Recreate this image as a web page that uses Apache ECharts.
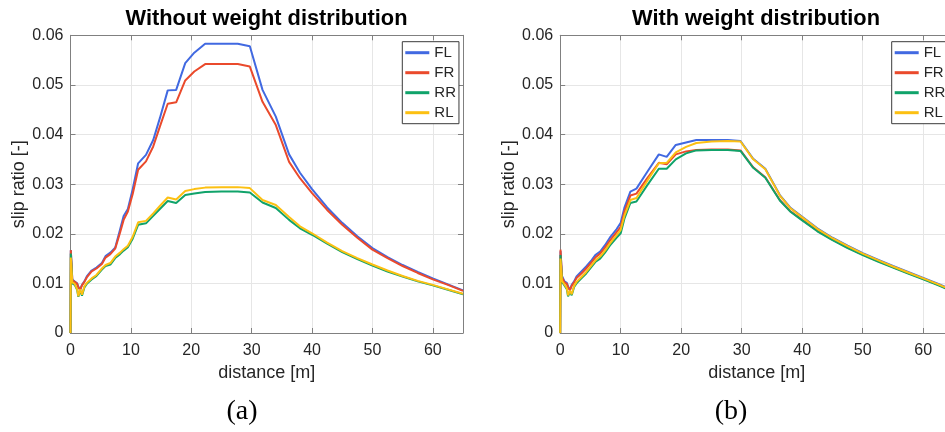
<!DOCTYPE html>
<html>
<head>
<meta charset="utf-8">
<script src="https://cdn.jsdelivr.net/npm/echarts@6/dist/echarts.min.js"></script>
<style>
html,body{margin:0;padding:0;background:#fff;overflow:hidden;width:945px;height:432px;}
#c{width:965px;height:432px;}
</style>
</head>
<body>
<div id="c"></div>
<script>
// ---------- data (a) Without weight distribution ----------
const distA = [0, 0.05, 0.3, 0.7, 1.1, 1.3, 1.6, 1.9, 2.3, 2.7, 3.5, 4.3, 5.2, 5.8, 6.6, 7.4, 8.2, 8.8, 9.5, 10.3, 11.2, 12.5, 13.7, 14.8, 16.1, 17.5, 19.0, 20.5, 22.3, 25, 27.7, 29.7, 31.8, 34.0, 36.2, 38, 40, 42.5, 45, 47.5, 50, 52.5, 55, 57.5, 60, 62.5, 65];
const flA = [0, 0.0167, 0.0108, 0.0104, 0.0100, 0.0093, 0.0088, 0.0097, 0.0104, 0.0114, 0.0126, 0.0132, 0.0141, 0.0155, 0.0162, 0.0172, 0.0208, 0.0236, 0.0250, 0.0290, 0.0342, 0.0359, 0.0389, 0.0433, 0.0489, 0.0490, 0.0544, 0.0565, 0.0583, 0.0583, 0.0583, 0.0578, 0.0490, 0.0436, 0.0360, 0.0323, 0.0290, 0.0253, 0.0222, 0.0195, 0.0171, 0.0153, 0.0137, 0.0123, 0.0110, 0.0098, 0.0086];
const frA = [0, 0.0167, 0.0106, 0.0103, 0.0099, 0.0092, 0.0087, 0.0096, 0.0103, 0.0112, 0.0124, 0.0130, 0.0139, 0.0152, 0.0159, 0.0170, 0.0202, 0.0228, 0.0245, 0.0280, 0.0329, 0.0346, 0.0376, 0.0416, 0.0462, 0.0465, 0.0509, 0.0527, 0.0542, 0.0542, 0.0542, 0.0537, 0.0466, 0.0419, 0.0345, 0.0312, 0.0282, 0.0248, 0.0218, 0.0192, 0.0168, 0.0151, 0.0135, 0.0121, 0.0108, 0.0097, 0.0085];
const rrA = [0, 0.0160, 0.0100, 0.0097, 0.0087, 0.0073, 0.0086, 0.0075, 0.0092, 0.0099, 0.0108, 0.0115, 0.0128, 0.0135, 0.0138, 0.0151, 0.0159, 0.0166, 0.0173, 0.0190, 0.0218, 0.0221, 0.0236, 0.0250, 0.0266, 0.0262, 0.0278, 0.0281, 0.0284, 0.0285, 0.0285, 0.0283, 0.0263, 0.0252, 0.0228, 0.0211, 0.0198, 0.0180, 0.0163, 0.0149, 0.0136, 0.0124, 0.0114, 0.0104, 0.0096, 0.0087, 0.0078];
const rlA = [0, 0.0152, 0.0102, 0.0099, 0.0088, 0.0074, 0.0088, 0.0077, 0.0094, 0.0101, 0.0110, 0.0117, 0.0130, 0.0137, 0.0141, 0.0154, 0.0162, 0.0169, 0.0176, 0.0194, 0.0223, 0.0226, 0.0241, 0.0256, 0.0273, 0.0269, 0.0286, 0.0290, 0.0293, 0.0294, 0.0294, 0.0292, 0.0268, 0.0258, 0.0234, 0.0215, 0.0201, 0.0182, 0.0165, 0.0151, 0.0138, 0.0126, 0.0115, 0.0105, 0.0097, 0.0088, 0.0079];

// ---------- data (b) With weight distribution ----------
const distB = [0, 0.05, 0.3, 0.7, 1.1, 1.3, 1.6, 1.9, 2.3, 2.7, 3.5, 4.3, 5.2, 5.8, 6.6, 7.4, 8.2, 9.3, 10.0, 10.6, 11.6, 12.6, 14.4, 16.3, 17.6, 19.1, 20.8, 22.5, 25, 27.7, 29.8, 31.9, 33.9, 36.3, 38, 40, 42.5, 45, 47.5, 50, 52.5, 55, 57.5, 60, 62.5, 65];
const flB = [0, 0.0165, 0.0115, 0.0104, 0.0101, 0.0094, 0.0087, 0.0097, 0.0104, 0.0114, 0.0124, 0.0134, 0.0147, 0.0157, 0.0164, 0.0177, 0.0192, 0.0209, 0.0222, 0.0252, 0.0285, 0.0291, 0.0325, 0.0360, 0.0355, 0.0379, 0.0384, 0.0389, 0.0389, 0.0389, 0.0387, 0.0351, 0.0331, 0.0278, 0.0253, 0.0234, 0.0211, 0.0192, 0.0176, 0.0161, 0.0148, 0.0135, 0.0123, 0.0111, 0.0099, 0.0086];
const frB = [0, 0.0168, 0.0112, 0.0102, 0.0099, 0.0092, 0.0086, 0.0095, 0.0102, 0.0111, 0.0120, 0.0130, 0.0143, 0.0152, 0.0160, 0.0172, 0.0186, 0.0203, 0.0214, 0.0244, 0.0277, 0.0281, 0.0312, 0.0343, 0.0340, 0.0360, 0.0366, 0.0369, 0.0370, 0.0370, 0.0368, 0.0334, 0.0314, 0.0268, 0.0246, 0.0228, 0.0206, 0.0188, 0.0172, 0.0158, 0.0145, 0.0133, 0.0121, 0.0109, 0.0097, 0.0084];
const rrB = [0, 0.0157, 0.0103, 0.0096, 0.0088, 0.0074, 0.0083, 0.0076, 0.0093, 0.0100, 0.0110, 0.0120, 0.0134, 0.0143, 0.0150, 0.0162, 0.0176, 0.0192, 0.0201, 0.0230, 0.0262, 0.0265, 0.0298, 0.0331, 0.0331, 0.0350, 0.0362, 0.0368, 0.0369, 0.0369, 0.0367, 0.0333, 0.0313, 0.0267, 0.0245, 0.0227, 0.0205, 0.0187, 0.0171, 0.0157, 0.0144, 0.0132, 0.0120, 0.0108, 0.0096, 0.0083];
const rlB = [0, 0.0150, 0.0105, 0.0098, 0.0090, 0.0076, 0.0085, 0.0078, 0.0095, 0.0103, 0.0113, 0.0123, 0.0137, 0.0146, 0.0154, 0.0166, 0.0180, 0.0197, 0.0208, 0.0236, 0.0268, 0.0272, 0.0307, 0.0342, 0.0343, 0.0364, 0.0375, 0.0383, 0.0386, 0.0387, 0.0386, 0.0350, 0.0330, 0.0277, 0.0252, 0.0233, 0.0210, 0.0191, 0.0175, 0.0160, 0.0147, 0.0134, 0.0122, 0.0110, 0.0098, 0.0085];

const seriesNames = ['FL', 'FR', 'RR', 'RL'];
const titles = ['Without weight distribution', 'With weight distribution'];
const panelLabels = ['(a)', '(b)'];

// ---------- styling ----------
const colors = ['#4169E1', '#EA4A2C', '#10A36A', '#FCC012'];
const axisColor = '#808080';
const textColor = '#262626';
const font = 'Liberation Sans, Arial, Helvetica, sans-serif';
const serif = '"Liberation Serif", "Times New Roman", serif';

const grids = [
  {left: 70.5, top: 35.3, width: 392.5, height: 297.7},
  {left: 560.2, top: 35.3, width: 393.3, height: 297.7}
];

const xFmt = v => (v % 10 === 0 ? String(v) : '');

function mainX(gi) {
  return {
    type: 'value', gridIndex: gi, position: 'bottom', min: 0, max: 65, interval: 10,
    name: 'distance [m]', nameLocation: 'middle', nameGap: 31,
    nameTextStyle: {fontFamily: font, fontSize: 18, color: textColor},
    axisLine: {show: true, onZero: false, lineStyle: {color: axisColor, width: 1}},
    axisTick: {show: true, inside: true, length: 5, lineStyle: {color: axisColor}},
    axisLabel: {show: true, fontFamily: font, fontSize: 16, color: textColor, margin: 10, formatter: xFmt},
    splitLine: {show: true, lineStyle: {color: '#e6e6e6', width: 1}}
  };
}
function boxX(gi) {
  return {
    type: 'value', gridIndex: gi, position: 'top', min: 0, max: 65, interval: 10,
    axisLine: {show: true, onZero: false, lineStyle: {color: axisColor, width: 1}},
    axisTick: {show: true, inside: true, length: 5, lineStyle: {color: axisColor}},
    axisLabel: {show: false}, splitLine: {show: false}
  };
}
function mainY(gi) {
  return {
    type: 'value', gridIndex: gi, position: 'left', min: 0, max: 0.06, interval: 0.01,
    name: 'slip ratio [-]', nameLocation: 'middle', nameGap: 34, nameRotate: 90,
    nameTextStyle: {fontFamily: font, fontSize: 18, color: textColor},
    axisLine: {show: true, onZero: false, lineStyle: {color: axisColor, width: 1}},
    axisTick: {show: true, inside: true, length: 5, lineStyle: {color: axisColor}},
    axisLabel: {show: true, fontFamily: font, fontSize: 16, color: textColor, margin: 7,
      formatter: v => String(+v.toFixed(2))},
    splitLine: {show: true, lineStyle: {color: '#e6e6e6', width: 1}}
  };
}
function boxY(gi) {
  return {
    type: 'value', gridIndex: gi, position: 'right', min: 0, max: 0.06, interval: 0.01,
    axisLine: {show: true, onZero: false, lineStyle: {color: axisColor, width: 1}},
    axisTick: {show: true, inside: true, length: 5, lineStyle: {color: axisColor}},
    axisLabel: {show: false}, splitLine: {show: false}
  };
}

const panels = [
  {dist: distA, vals: [flA, frA, rrA, rlA]},
  {dist: distB, vals: [flB, frB, rrB, rlB]}
];
const series = [];
panels.forEach((p, gi) => {
  p.vals.forEach((v, si) => {
    series.push({
      type: 'line', name: seriesNames[si],
      xAxisIndex: gi * 2, yAxisIndex: gi * 2,
      data: p.dist.map((d, i) => [d, v[i]]),
      symbol: 'none', showSymbol: false, clip: true, animation: false,
      lineStyle: {color: colors[si], width: 2},
      itemStyle: {color: colors[si]},
      z: 3 + si
    });
  });
});

const legendBase = {
  orient: 'vertical', top: 41.7, padding: [3, 3, 3, 3], itemGap: 4,
  itemWidth: 24, itemHeight: 3, icon: 'rect',
  backgroundColor: '#fff', borderColor: '#3a3a3a', borderWidth: 1, borderRadius: 0,
  textStyle: {fontFamily: font, fontSize: 15, color: textColor, lineHeight: 16},
  data: seriesNames, selectedMode: false
};

function txt(text, x, y, f, size, weight) {
  return {type: 'text', x: x, y: y, z: 100, silent: true,
    style: {text: text, fill: '#000', align: 'center', verticalAlign: 'middle',
      font: (weight || 'normal') + ' ' + size + 'px ' + f}};
}

const chart = echarts.init(document.getElementById('c'), null, {renderer: 'canvas'});
chart.setOption({
  backgroundColor: '#fff',
  animation: false,
  graphic: [
    txt(titles[0], 266.5, 18.5, font, 21.8, 'bold'),
    txt(titles[1], 756, 18.5, font, 21.8, 'bold'),
    txt(panelLabels[0], 242, 412, serif, 28),
    txt(panelLabels[1], 731, 412, serif, 28)
  ],
  grid: grids.map(g => Object.assign({containLabel: false}, g)),
  xAxis: [mainX(0), boxX(0), mainX(1), boxX(1)],
  yAxis: [mainY(0), boxY(0), mainY(1), boxY(1)],
  legend: [
    Object.assign({}, legendBase, {left: 402.3}),
    Object.assign({}, legendBase, {left: 891.7})
  ],
  series: series
});
</script>
</body>
</html>
